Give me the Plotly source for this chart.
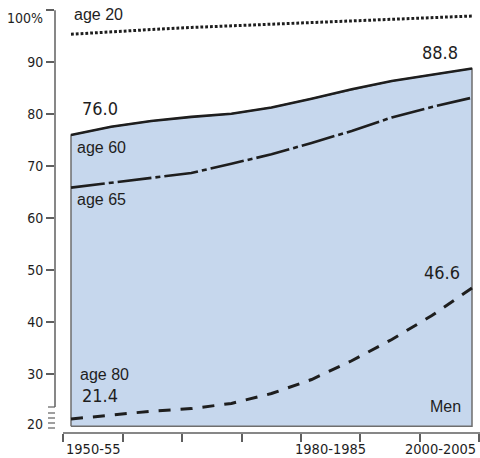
import plotly.graph_objects as go

# five-year periods, 1950-55 ... 2000-05
periods = ['1950-55', '1955-60', '1960-65', '1965-70', '1970-75', '1975-80',
           '1980-85', '1985-90', '1990-95', '1995-2000', '2000-05']
age20 = [95.4, 95.9, 96.3, 96.7, 97.0, 97.4, 97.7, 98.0, 98.3, 98.6, 98.9]
age60 = [76.0, 77.6, 78.7, 79.5, 80.1, 81.3, 83.0, 84.8, 86.4, 87.6, 88.8]
age65 = [65.9, 66.8, 67.7, 68.7, 70.5, 72.3, 74.5, 76.8, 79.4, 81.4, 83.2]
age80 = [21.4, 22.2, 22.9, 23.4, 24.4, 26.3, 29.0, 32.6, 36.7, 41.3, 46.6]

y_ticks = [30, 40, 50, 60, 70, 80, 90, 100]
x_labels = ['1950-55', '1980-1985', '2000-2005']
x_label_slot = [0, 4, 6]   # which gap between x ticks holds each label

idx = list(range(len(periods)))

NARROW = 'Liberation Sans Narrow, DejaVu Sans Condensed, Arial Narrow, sans-serif'
SANS = 'Liberation Sans, Arial, sans-serif'
INK = 'rgb(30,30,30)'
GREY = 'rgb(95,95,95)'


# helpers to place decorations by pixel
def xd(px):
    return (px - 71) / 40.1


def yd(py):
    return 20 + (426.3 - py) / 5.2


x_tick_px = [63, 123, 182, 242, 301, 360, 420, 479]
x_tickvals = [xd(p) for p in x_tick_px]

fig = go.Figure()

# shaded area under the age 60 curve
fig.add_trace(go.Scatter(
    x=[idx[0]] + idx + [idx[-1], idx[0]],
    y=[20] + age60 + [20, 20],
    mode='lines', fill='toself',
    fillcolor='rgb(198,215,237)',
    line=dict(color='rgb(110,110,110)', width=1.5),
    hoverinfo='skip'))

fig.add_trace(go.Scatter(x=idx, y=age20, mode='lines', name='age 20',
                         line=dict(color=INK, width=3, dash='2.8px,2px')))
fig.add_trace(go.Scatter(x=idx, y=age65, mode='lines', name='age 65',
                         line=dict(color=INK, width=2.6, dash='34px,4px,5px,4px')))
fig.add_trace(go.Scatter(x=idx, y=age80, mode='lines', name='age 80',
                         line=dict(color=INK, width=3, dash='12px,10px')))
fig.add_trace(go.Scatter(x=idx, y=age60, mode='lines', name='age 60',
                         line=dict(color=INK, width=2.6)))

annotations = []


def label(text, px, py, size, family, anchor='left'):
    annotations.append(dict(text=text, x=xd(px), y=yd(py), xref='x', yref='y',
                            xanchor=anchor, yanchor='middle', showarrow=False,
                            font=dict(size=size, family=family, color=INK)))


label('age 20', 72, 14, 16, SANS)
label('age 60', 75, 147, 16, SANS)
label('age 65', 75, 199, 16, SANS)
label('age 80', 78, 374, 16, SANS)
label('76.0', 80, 108, 18, NARROW)
label('21.4', 80, 395, 18, NARROW)
label('88.8', 460, 52, 18, NARROW, 'right')
label('46.6', 462, 272, 18, NARROW, 'right')
label('Men', 463, 406, 16, SANS, 'right')

# y labels that sit off their ticks
for txt, py in [('100%', 18), ('20', 424)]:
    annotations.append(dict(text=txt, x=0, xref='paper', y=yd(py), yref='y',
                            xanchor='right', yanchor='middle', xshift=-10,
                            showarrow=False,
                            font=dict(size=14, family=NARROW, color=INK)))

# period labels centred between ticks (the last one kept inside the page)
for txt, slot in zip(x_labels, x_label_slot):
    last = slot == len(x_tickvals) - 2
    annotations.append(dict(text=txt,
                            x=xd(478) if last else (x_tickvals[slot] + x_tickvals[slot + 1]) / 2,
                            xanchor='right' if last else 'center',
                            xref='x', y=0, yref='paper', yanchor='middle', yshift=-16,
                            showarrow=False,
                            font=dict(size=14.5, family=NARROW, color=INK)))

shapes = [
    # y axis line, broken near 20
    dict(type='line', xref='paper', yref='y', x0=0, x1=0, y0=yd(407), y1=100,
         line=dict(color=GREY, width=1.5)),
    # x axis line
    dict(type='line', xref='x', yref='paper', x0=xd(63), x1=xd(480), y0=0, y1=0,
         line=dict(color=GREY, width=1.5)),
]
for py in [407, 413, 418, 423, 428]:
    shapes.append(dict(type='line', xref='paper', yref='y', x0=-7 / 425, x1=0,
                       y0=yd(py), y1=yd(py), line=dict(color=GREY, width=1.2)))

fig.update_layout(
    width=480, height=458,
    margin=dict(l=55, r=0, t=10, b=25),
    paper_bgcolor='white', plot_bgcolor='white',
    showlegend=False,
    annotations=annotations,
    shapes=shapes,
    xaxis=dict(range=[xd(55), xd(480)], showgrid=False, zeroline=False,
               showline=False, tickvals=x_tickvals, ticks='outside', ticklen=8,
               tickwidth=1.5, tickcolor=GREY, showticklabels=False),
    yaxis=dict(range=[yd(433), yd(10)], showgrid=False, zeroline=False,
               showline=False, tickvals=y_ticks,
               ticktext=[str(v) for v in y_ticks[:-1]] + [''],
               ticks='outside', ticklen=8, tickwidth=1.5, tickcolor=GREY,
               tickfont=dict(size=14, family=NARROW, color=INK)),
)

# page has a default 8px body margin; drop it so the chart fills the window
fig.write_html('out.html', config={'displayModeBar': False},
               post_script="document.body.style.margin='0';")
